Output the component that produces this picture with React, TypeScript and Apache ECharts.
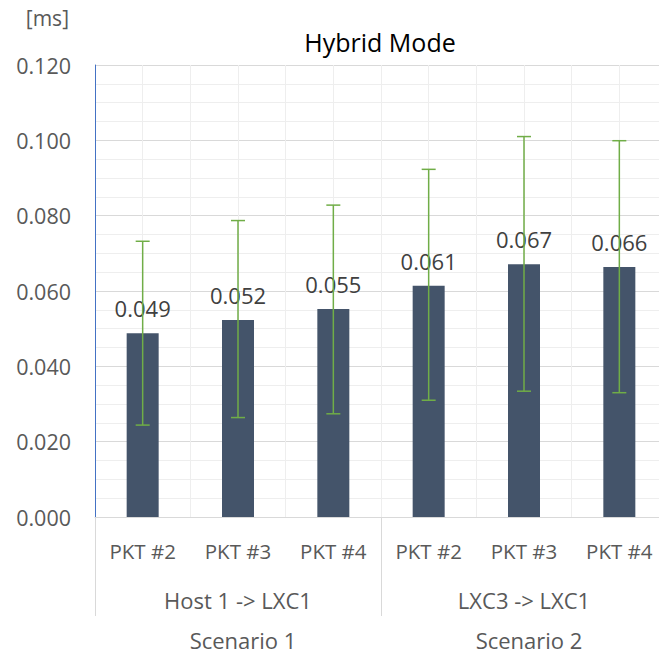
import React, { useEffect, useRef } from "react";
import * as echarts from "echarts";

const titleText = "Hybrid Mode";
const unitLabel = "[ms]";
const categories = ["PKT #2", "PKT #3", "PKT #4", "PKT #2", "PKT #3", "PKT #4"];
const groups = ["Host 1 -> LXC1", "LXC3 -> LXC1"];
const scenarios = ["Scenario 1", "Scenario 2"];
const meanValues = [0.0488, 0.0523, 0.0552, 0.0614, 0.0671, 0.0664];
const errUpper = [0.0732, 0.0787, 0.0828, 0.0923, 0.101, 0.0999];
const errLower = [0.0244, 0.0264, 0.0274, 0.031, 0.0334, 0.033];

const FONT = "'Open Sans', 'Noto Sans', sans-serif";
const CHART_W = 672;

export default function App() {
  const ref = useRef<HTMLDivElement>(null);
  useEffect(() => {
    if (!ref.current) return;
    const chart = echarts.init(ref.current, undefined, { renderer: "svg" });
    const errData = categories.map((_, i) => [i, errUpper[i], errLower[i]]);
    chart.setOption({
      animation: false,
      backgroundColor: "#ffffff",
      textStyle: { fontFamily: FONT },
      title: {
        text: titleText,
        left: 375,
        top: 24,
        textAlign: "center",
        textStyle: { fontFamily: FONT, fontSize: 25, fontWeight: "normal", color: "#000000" },
      },
      graphic: [
        {
          type: "text",
          right: CHART_W - 69,
          top: 7,
          style: { text: unitLabel, font: `21px ${FONT}`, fill: "#595959" },
        },
      ],
      grid: { left: 95, right: CHART_W - 667, top: 65, bottom: 140, containLabel: false },
      xAxis: [
        {
          type: "category",
          data: categories,
          position: "bottom",
          axisLine: { show: true, lineStyle: { color: "#d9d9d9", width: 1 } },
          axisTick: { show: false },
          axisLabel: { margin: 23, fontSize: 20.5, color: "#595959", fontFamily: FONT, interval: 0 },
          splitLine: { show: false },
        },
        {
          type: "category",
          data: groups,
          position: "bottom",
          axisLine: { show: false },
          axisTick: { show: true, length: 99, lineStyle: { color: "#d9d9d9", width: 1 } },
          axisLabel: { margin: 72, fontSize: 22, color: "#595959", fontFamily: FONT, interval: 0 },
          splitLine: { show: false },
        },
        {
          type: "category",
          data: scenarios,
          position: "bottom",
          axisLine: { show: false },
          axisTick: { show: false },
          axisLabel: {
            margin: 112,
            fontSize: 22,
            color: "#595959",
            fontFamily: FONT,
            interval: 0,
            padding: [0, 0, 0, 10],
          },
          splitLine: { show: false },
        },
        {
          type: "value",
          min: 0,
          max: 12,
          interval: 1,
          position: "top",
          axisLine: { show: false },
          axisTick: { show: false },
          axisLabel: { show: false },
          splitLine: { show: true, lineStyle: { color: "#eeeeee", width: 1 } },
        },
      ],
      yAxis: {
        type: "value",
        min: 0,
        max: 0.12,
        interval: 0.02,
        axisLine: { show: true, lineStyle: { color: "#4472C4", width: 1 } },
        axisTick: { show: false },
        axisLabel: {
          margin: 24,
          fontSize: 21.5,
          color: "#595959",
          fontFamily: FONT,
          formatter: (v: number) => v.toFixed(3),
        },
        splitLine: { show: true, lineStyle: { color: "#d9d9d9", width: 1 } },
        minorTick: { show: false, splitNumber: 4 },
        minorSplitLine: { show: true, lineStyle: { color: "#eeeeee", width: 1 } },
      },
      series: [
        {
          type: "bar",
          xAxisIndex: 0,
          yAxisIndex: 0,
          data: meanValues,
          barWidth: 32,
          itemStyle: { color: "#44546A" },
          label: {
            show: true,
            position: "top",
            distance: 14,
            fontSize: 22,
            color: "#404040",
            fontFamily: FONT,
            formatter: (p: any) => Number(p.value).toFixed(3),
          },
          z: 2,
        },
        {
          type: "custom",
          xAxisIndex: 0,
          yAxisIndex: 0,
          data: errData,
          z: 3,
          renderItem: (_params: any, api: any) => {
            const x = api.value(0);
            const top = api.coord([x, api.value(1)]);
            const bot = api.coord([x, api.value(2)]);
            const hw = 7;
            const style = { stroke: "#70AD47", lineWidth: 1.5 };
            return {
              type: "group",
              children: [
                { type: "line", shape: { x1: top[0], y1: top[1], x2: bot[0], y2: bot[1] }, style },
                { type: "line", shape: { x1: top[0] - hw, y1: top[1], x2: top[0] + hw, y2: top[1] }, style },
                { type: "line", shape: { x1: bot[0] - hw, y1: bot[1], x2: bot[0] + hw, y2: bot[1] }, style },
              ],
            };
          },
        },
      ],
    });
    return () => chart.dispose();
  }, []);
  return (
    <div style={{ position: "absolute", left: 0, top: 0, width: 659, height: 657, overflow: "hidden" }}>
      <div ref={ref} style={{ width: CHART_W, height: 657 }} />
    </div>
  );
}
